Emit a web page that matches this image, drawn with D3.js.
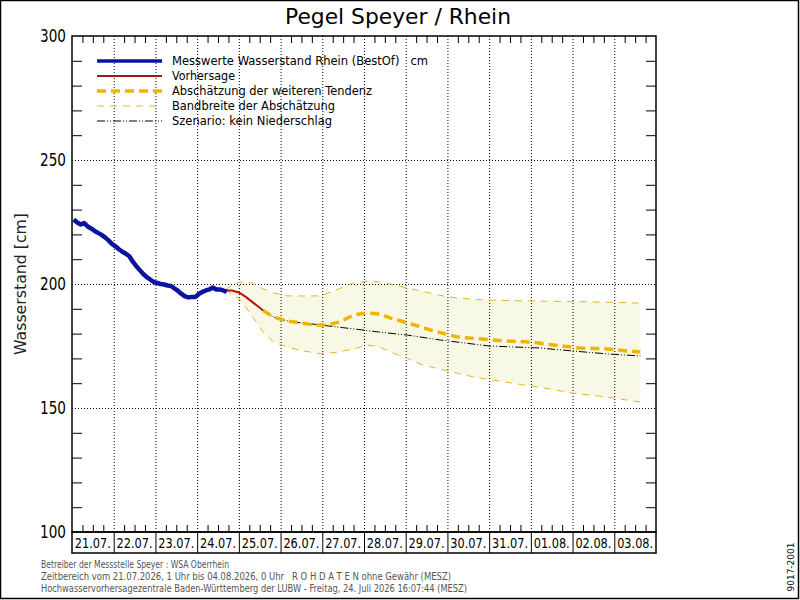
<!DOCTYPE html>
<html>
<head>
<meta charset="utf-8">
<script src="https://cdn.jsdelivr.net/npm/d3@7"></script>
<style>
    body { margin: 0; background: white; }
    svg { display: block; font-family: "DejaVu Sans", sans-serif; }
    text { white-space: pre; }
</style>
</head>
<body>
<svg id="chart" width="800" height="600"></svg>
<script>
    // values; hours counted from 21.07. 0 Uhr
    const dayLabels = ["21.07.", "22.07.", "23.07.", "24.07.", "25.07.", "26.07.", "27.07.",
                       "28.07.", "29.07.", "30.07.", "31.07.", "01.08.", "02.08.", "03.08."];
    const yLabelTicks = [100, 150, 200, 250, 300];

    const measHours = [1, 3, 5, 7, 9, 11, 13, 15, 17, 19, 21, 23, 25, 27, 29, 31, 33, 35, 37, 39,
                       41, 43, 45, 47, 49, 51, 53, 55, 57, 59, 61, 63, 65, 67, 69, 71, 73, 75, 77,
                       79, 81, 83, 85, 87, 89];
    const measValues = [226.0, 224.8, 224.0, 224.6, 223.2, 222.4, 221.4, 220.6, 219.8, 218.8,
                        217.6, 216.2, 215.2, 214.0, 213.0, 212.2, 211.2, 209.0, 207.2, 205.6,
                        204.0, 202.8, 201.8, 200.8, 200.4, 200.0, 199.8, 199.4, 199.2, 198.2,
                        197.2, 196.0, 195.0, 194.6, 194.8, 194.8, 196.0, 196.8, 197.4, 197.8,
                        198.6, 197.8, 197.8, 197.4, 196.8];

    const fcHours = [88, 92, 96, 100, 104, 108, 110];
    const fcValues = [197.4, 197.4, 196.6, 194.8, 192.6, 190.4, 189.3];

    const trendHours = [110, 116, 124, 131, 139, 147, 154, 162, 170, 177, 183, 193, 208, 222,
                        236, 250, 264, 277, 292, 308, 319, 327];
    const trendValues = [189.3, 186.6, 185.1, 184.3, 183.5, 183.5, 184.7, 187.5, 188.3, 187.9,
                         186.3, 184.3, 181.1, 178.6, 177.8, 177.0, 176.6, 175.4, 174.2, 173.8,
                         173.0, 172.6];

    const dryHours = [110, 116, 124, 131, 143, 152, 162, 177, 193, 212, 240, 269, 288, 308, 327];
    const dryValues = [189.3, 186.6, 185.1, 184.4, 183.5, 182.7, 181.9, 180.6, 179.4, 177.4,
                       175.0, 174.2, 173.0, 171.8, 171.0];

    const bandHours = [88, 92, 97, 104, 110, 116, 124, 133, 143, 152, 162, 170, 177, 183, 193,
                       202, 216, 231, 240, 260, 269, 288, 308, 327];
    const bandUpper = [197.6, 199.6, 200.8, 200.4, 198.0, 196.4, 195.2, 195.2, 195.2, 197.6,
                       200.4, 201.2, 200.8, 200.0, 198.4, 197.0, 194.8, 193.8, 193.5, 193.2,
                       193.1, 192.9, 192.7, 192.3];
    const bandLower = [197.6, 196.0, 193.5, 186.7, 180.6, 176.6, 174.6, 173.0, 171.9, 172.4,
                       173.8, 175.4, 174.6, 172.6, 170.0, 167.3, 165.0, 162.5, 161.5, 159.3,
                       158.4, 156.0, 154.4, 152.4];

    const legendItems = [
        { label: "Messwerte Wasserstand Rhein (BestOf)   cm", color: "#0a14a0", width: 3.5, dash: null, len: 256 },
        { label: "Vorhersage", color: "#a01818", width: 2, dash: null, len: 63 },
        { label: "Abschätzung der weiteren Tendenz", color: "#f0b400", width: 3.5, dash: "9,5", len: 200 },
        { label: "Bandbreite der Abschätzung", color: "#e8b428", width: 1, dash: "7,6", len: 163 },
        { label: "Szenario: kein Niederschlag", color: "#000", width: 1, dash: "8,2,1,2,1,2", len: 160 }
    ];

    const footerLines = [
        { text: "Betreiber der Messstelle Speyer : WSA Oberrhein", len: 188 },
        { text: "Zeitbereich vom 21.07.2026, 1 Uhr bis 04.08.2026, 0 Uhr   R O H D A T E N ohne Gewähr (MESZ)", len: 410 },
        { text: "Hochwasservorhersagezentrale Baden-Württemberg der LUBW - Freitag, 24. Juli 2026 16:07:44 (MESZ)", len: 426 }
    ];

    // layout
    let margin = { left: 72, right: 656, top: 36, bottom: 532 };
    let svg = d3.select("#chart");

    let x = d3.scaleLinear().domain([0, 336]).range([margin.left, margin.right]);
    let y = d3.scaleLinear().domain([100, 300]).range([margin.bottom, margin.top]);

    // outer frame
    svg.append("rect")
        .attr("x", 0.5).attr("y", 0.5)
        .attr("width", 798).attr("height", 598)
        .attr("fill", "white").attr("stroke", "#000").attr("stroke-width", 1.5);

    // band fill
    let bandData = bandHours.map((h, i) => ({ h, hi: bandUpper[i], lo: bandLower[i] }));
    svg.append("path")
        .datum(bandData)
        .attr("d", d3.area().x(d => x(d.h)).y0(d => y(d.lo)).y1(d => y(d.hi)))
        .attr("fill", "#f8f8e6");

    // grid lines
    let dayBounds = dayLabels.map((d, i) => i * 24);
    let innerDays = dayBounds.slice(1);
    svg.append("g")
        .attr("transform", `translate(0,${margin.bottom})`)
        .call(d3.axisBottom(x).tickValues(innerDays).tickSize(-(margin.bottom - margin.top)).tickFormat(""))
        .call(g => g.select(".domain").remove())
        .call(g => g.selectAll("line").attr("stroke-dasharray", "1,2").attr("stroke", "#000"));

    svg.append("g")
        .attr("transform", `translate(${margin.left},0)`)
        .call(d3.axisLeft(y).tickValues([150, 200, 250]).tickSize(-(margin.right - margin.left)).tickFormat(""))
        .call(g => g.select(".domain").remove())
        .call(g => g.selectAll("line").attr("stroke-dasharray", "1,2").attr("stroke", "#000"));

    // minor ticks
    let yMinor = d3.range(110, 300, 10).filter(v => v % 50 !== 0);
    svg.append("g")
        .attr("transform", `translate(${margin.left},0)`)
        .call(d3.axisRight(y).tickValues(yMinor).tickSize(10).tickFormat(""))
        .call(g => g.select(".domain").remove());
    svg.append("g")
        .attr("transform", `translate(${margin.right},0)`)
        .call(d3.axisLeft(y).tickValues(yMinor).tickSize(10).tickFormat(""))
        .call(g => g.select(".domain").remove());

    let xMinor = d3.range(6, 336, 6).filter(h => h % 24 !== 0);
    svg.append("g")
        .attr("transform", `translate(0,${margin.top})`)
        .call(d3.axisBottom(x).tickValues(xMinor).tickSize(7).tickFormat(""))
        .call(g => g.select(".domain").remove());
    svg.append("g")
        .attr("transform", `translate(0,${margin.bottom})`)
        .call(d3.axisTop(x).tickValues(xMinor).tickSize(7).tickFormat(""))
        .call(g => g.select(".domain").remove());

    // y labels
    svg.append("g")
        .attr("transform", `translate(${margin.left},0)`)
        .call(d3.axisLeft(y).tickValues(yLabelTicks).tickSize(0).tickPadding(6))
        .call(g => g.select(".domain").remove())
        .call(g => g.selectAll("text")
            .attr("font-family", "DejaVu Sans, sans-serif")
            .attr("font-size", 17)
            .attr("fill", "#000")
            .attr("textLength", 26)
            .attr("lengthAdjust", "spacingAndGlyphs"));

    // series
    function drawLine(hours, values, color, width, dash) {
        let pts = hours.map((h, i) => [x(h), y(values[i])]);
        svg.append("path")
            .datum(pts)
            .attr("d", d3.line())
            .attr("fill", "none")
            .attr("stroke", color)
            .attr("stroke-width", width)
            .attr("stroke-dasharray", dash)
            .attr("stroke-linejoin", "round");
    }
    drawLine(bandHours, bandUpper, "#e8b428", 1, "7,6");
    drawLine(bandHours, bandLower, "#e8b428", 1, "7,6");
    drawLine(dryHours, dryValues, "#000", 1, "8,2,1,2,1,2");
    drawLine(trendHours, trendValues, "#f0b400", 3.5, "9,5");
    drawLine(fcHours, fcValues, "#c01010", 2, null);
    drawLine(measHours, measValues, "#0a14a0", 4.5, null);

    // plot frame
    svg.append("rect")
        .attr("x", margin.left).attr("y", margin.top)
        .attr("width", margin.right - margin.left)
        .attr("height", margin.bottom - margin.top)
        .attr("fill", "none").attr("stroke", "#000").attr("stroke-width", 1.5);

    // date boxes
    let boxH = 21;
    svg.append("rect")
        .attr("x", margin.left).attr("y", margin.bottom)
        .attr("width", margin.right - margin.left).attr("height", boxH)
        .attr("fill", "none").attr("stroke", "#000").attr("stroke-width", 1.5);
    svg.append("g")
        .attr("transform", `translate(0,${margin.bottom})`)
        .call(d3.axisBottom(x).tickValues(innerDays).tickSize(boxH).tickFormat(""))
        .call(g => g.select(".domain").remove());
    svg.append("g").selectAll("text")
        .data(dayLabels)
        .join("text")
        .attr("x", (d, i) => x(i * 24 + 12))
        .attr("y", margin.bottom + 16)
        .attr("text-anchor", "middle")
        .attr("font-size", 14)
        .attr("textLength", 36)
        .attr("lengthAdjust", "spacingAndGlyphs")
        .text(d => d);

    // title and axis label
    svg.append("text")
        .attr("x", 398).attr("y", 24)
        .attr("text-anchor", "middle")
        .attr("font-size", 21)
        .attr("textLength", 226)
        .attr("lengthAdjust", "spacingAndGlyphs")
        .text("Pegel Speyer / Rhein");

    svg.append("text")
        .attr("transform", `translate(26,${(margin.top + margin.bottom) / 2}) rotate(-90)`)
        .attr("text-anchor", "middle")
        .attr("font-size", 15)
        .attr("fill", "#222")
        .attr("textLength", 142)
        .attr("lengthAdjust", "spacingAndGlyphs")
        .text("Wasserstand [cm]");

    // legend
    let legend = svg.append("g");
    legendItems.forEach((item, i) => {
        let ly = 61 + i * 15;
        legend.append("line")
            .attr("x1", 97).attr("x2", 162)
            .attr("y1", ly).attr("y2", ly)
            .attr("stroke", item.color)
            .attr("stroke-width", item.width)
            .attr("stroke-dasharray", item.dash);
        legend.append("text")
            .attr("x", 172).attr("y", ly + 4)
            .attr("font-size", 12)
            .attr("textLength", item.len)
            .attr("lengthAdjust", "spacingAndGlyphs")
            .text(item.label);
    });

    // footer
    svg.append("g").selectAll("text")
        .data(footerLines)
        .join("text")
        .attr("x", 41)
        .attr("y", (d, i) => 568 + i * 12)
        .attr("font-size", 11)
        .attr("fill", "#555")
        .attr("textLength", d => d.len)
        .attr("lengthAdjust", "spacingAndGlyphs")
        .text(d => d.text);

    svg.append("text")
        .attr("transform", "translate(794,567) rotate(-90)")
        .attr("text-anchor", "middle")
        .attr("font-size", 9)
        .text("9017-2001");
</script>
</body>
</html>
